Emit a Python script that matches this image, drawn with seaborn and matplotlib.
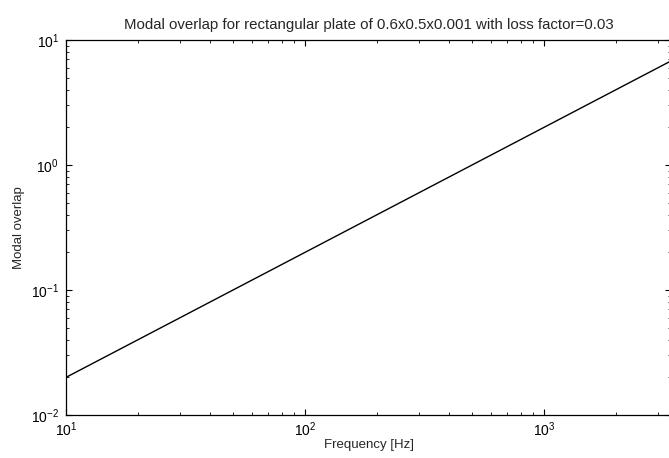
import matplotlib
matplotlib.use("Agg")
import matplotlib.pyplot as plt
import seaborn as sns
import pandas as pd
from matplotlib.ticker import LogLocator, NullFormatter

# Modal overlap of the plate versus frequency
frequency_hz = [10, 100, 1000, 3400]
modal_overlap = [0.02, 0.2, 2.0, 6.8]

title = "Modal overlap for rectangular plate of 0.6x0.5x0.001 with loss factor=0.03"
x_label = "Frequency [Hz]"
y_label = "Modal overlap"

sns.set_style("ticks")
plt.rcParams["font.family"] = ["Liberation Sans", "DejaVu Sans"]
plt.rcParams["mathtext.default"] = "regular"

df = pd.DataFrame({"f": frequency_hz, "m": modal_overlap})

W, H = 669, 458
fig = plt.figure(figsize=(W / 100, H / 100), dpi=100)
left, right, top, bottom = 66, 671, 40, 415
ax = fig.add_axes([left / W, 1 - bottom / H, (right - left) / W, (bottom - top) / H])

sns.lineplot(data=df, x="f", y="m", ax=ax, color="black", linewidth=1.0)

ax.set_xscale("log")
ax.set_yscale("log")
ax.set_xlim(10, 3400)
ax.set_ylim(0.01, 10)

ax.xaxis.set_major_locator(LogLocator(base=10, numticks=10))
ax.yaxis.set_major_locator(LogLocator(base=10, numticks=10))
ax.xaxis.set_minor_locator(LogLocator(base=10, subs=range(2, 10), numticks=20))
ax.yaxis.set_minor_locator(LogLocator(base=10, subs=range(2, 10), numticks=20))
ax.xaxis.set_minor_formatter(NullFormatter())
ax.yaxis.set_minor_formatter(NullFormatter())

ax.tick_params(which="both", direction="in", top=True, right=True, colors="black")
ax.tick_params(which="major", length=4, width=0.8, labelsize=10)
ax.tick_params(axis="x", which="major", pad=4)
ax.tick_params(axis="y", which="major", pad=5)
ax.tick_params(which="minor", length=2, width=0.6)
for s in ax.spines.values():
    s.set_color("black")
    s.set_linewidth(0.9)

ax.set_title(title, fontsize=10.8, pad=8)
ax.set_xlabel(x_label, fontsize=9.5, labelpad=0)
ax.set_ylabel(y_label, fontsize=9.5, labelpad=4)

fig.savefig("out.png", dpi=100, facecolor="white")
